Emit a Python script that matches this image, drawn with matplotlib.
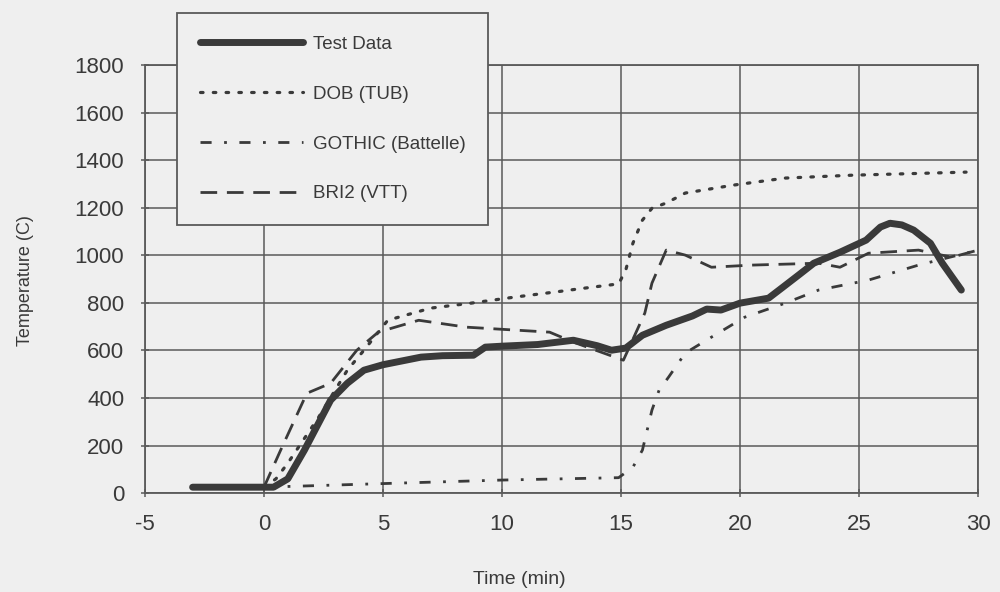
import matplotlib
matplotlib.use("Agg")
import matplotlib.pyplot as plt

# Colours of the scanned page.
paper = "#efefef"
ink = "#3a3a3a"
grid_ink = "#5a5a5a"

plt.rcParams["font.family"] = ["Liberation Sans", "DejaVu Sans"]

# Test data
test_t = [-3, 0.4, 1.0, 1.7, 2.8, 3.5, 4.2, 5.0, 6.0, 6.6, 7.5, 8.8, 9.3, 10,
          11.5, 13, 14.0, 14.6, 15.2, 15.9, 16.9, 18.0, 18.6, 19.2, 20, 21.2,
          21.8, 22.5, 23.1, 24.2, 25.3, 25.9, 26.3, 26.8, 27.3, 28, 28.5, 29.3]
test_T = [25, 25, 60, 181, 391, 462, 517, 540, 560, 572, 578, 580, 614, 618,
          625, 643, 620, 601, 610, 664, 706, 745, 774, 770, 799, 820,
          866, 920, 967, 1013, 1064, 1119, 1135, 1128, 1106, 1051, 967, 854]

# DOB (TUB)
dob_t = [0, 0.5, 1.0, 2.3, 3.5, 4.2, 5.2, 7.0, 8.7, 10.5, 12.4, 13.3, 14.9,
         15.2, 15.5, 15.9, 16.3, 16.9, 17.7, 19.7, 21.9, 24.7, 29.5]
dob_T = [25, 60, 126, 320, 517, 601, 727, 778, 799, 824, 848, 860, 880,
         938, 1051, 1148, 1198, 1220, 1262, 1295, 1325, 1337, 1350]

# GOTHIC (Battelle)
got_t = [0, 1, 5.6, 10, 14.9, 15.5, 15.9, 16.3, 16.6, 17.0, 17.7, 18.8, 20.2,
         21.9, 23.3, 25.4, 27.5, 30]
got_T = [25, 28, 42, 55, 65, 109, 181, 349, 433, 488, 589, 656, 740,
         799, 854, 896, 959, 1022]

# BRI2 (VTT)
bri_t = [0, 0.7, 1.8, 2.8, 3.9, 4.8, 6.5, 8.5, 12.0, 13.0, 15.1, 16.0, 16.3,
         16.9, 17.7, 18.8, 20.5, 23.3, 24.2, 25.4, 27.5, 28.9, 30]
bri_T = [25, 181, 420, 462, 601, 677, 727, 698, 677, 635, 559, 757, 883,
         1022, 1001, 950, 959, 967, 950, 1009, 1022, 992, 1022]

x_ticks = [-5, 0, 5, 10, 15, 20, 25, 30]
y_ticks = [0, 200, 400, 600, 800, 1000, 1200, 1400, 1600, 1800]

fig = plt.figure(figsize=(10, 5.92), dpi=100, facecolor=paper)
ax = fig.add_axes([0.145, 0.167, 0.833, 0.723])
ax.set_facecolor(paper)

ax.plot(test_t, test_T, color=ink, lw=5, solid_capstyle="round",
        solid_joinstyle="round", label="Test Data", zorder=5)
ax.plot(dob_t, dob_T, color=ink, lw=2.3, linestyle=(0, (0.8, 3.2)),
        dash_capstyle="round", label="DOB (TUB)", zorder=4)
ax.plot(got_t, got_T, color=ink, lw=2, linestyle=(0, (4, 4.5, 1, 4.5)),
        label="GOTHIC (Battelle)", zorder=4)
ax.plot(bri_t, bri_T, color=ink, lw=2, linestyle=(0, (6, 3.5)),
        label="BRI2 (VTT)", zorder=4)

ax.set_xlim(-5, 30)
ax.set_ylim(0, 1800)
ax.set_xticks(x_ticks)
ax.set_yticks(y_ticks)
ax.set_xticklabels([str(v) for v in x_ticks])
ax.grid(True, color=grid_ink, lw=1.1)
ax.set_axisbelow(True)
for s in ax.spines.values():
    s.set_color(grid_ink)
    s.set_linewidth(1.3)
ax.tick_params(axis="both", colors=grid_ink, labelcolor=ink, labelsize=16,
               length=6, width=1.1, direction="inout")
ax.tick_params(axis="y", pad=12)
ax.tick_params(axis="x", pad=12)

fig.text(0.025, 1 - 281 / 592, "Temperature (C)", rotation=90, ha="center",
         va="center", fontsize=13, color=ink)
fig.text(0.519, 1 - 580 / 592, "Time (min)", ha="center", va="center",
         fontsize=14, color=ink)

leg = ax.legend(loc="upper left", bbox_to_anchor=(0.177, 0.978),
                bbox_transform=fig.transFigure, fontsize=13.5,
                handlelength=5.5, handletextpad=0.55, labelspacing=1.75,
                borderpad=1.2, borderaxespad=0, fancybox=False,
                framealpha=1, facecolor=paper, edgecolor=grid_ink)
leg.get_frame().set_linewidth(1.3)
for t in leg.get_texts():
    t.set_color(ink)

fig.savefig("out.png", dpi=100, facecolor=paper)
